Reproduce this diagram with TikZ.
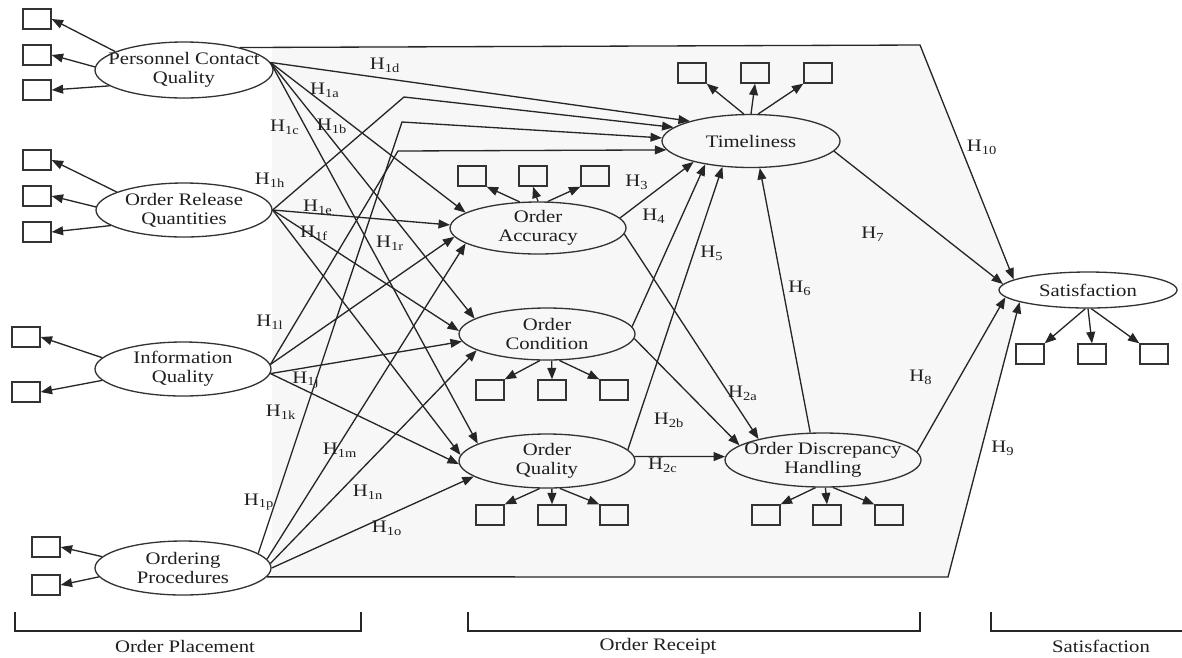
\documentclass[tikz,border=0pt]{standalone}
\usepackage{fontspec}
\setmainfont{Liberation Serif}[FakeStretch=1.18]
\usetikzlibrary{arrows.meta,shapes.geometric}
\begin{document}
\begin{tikzpicture}[x=0.02cm,y=-0.02cm,
  line width=0.75pt,
  every node/.style={text=black!88},
  esize/.style 2 args={minimum width=#1*0.02cm, minimum height=#2*0.02cm},
  latent/.style={ellipse, draw=black!80, inner xsep=-40pt, inner ysep=-8pt,
    align=center, font=\fontsize{10}{11}\selectfont},
  ind/.style={rectangle, draw=black!80, minimum width=0.56cm, minimum height=0.40cm, inner sep=0pt},
  conn/.style={draw=black!85, -{Triangle[length=6.5pt,width=5pt]}},
  plain/.style={draw=black!85},
  hyp/.style={font=\fontsize{10}{11}\selectfont, inner sep=1pt},
  stage/.style={font=\fontsize{10}{11}\selectfont, inner sep=1pt},
]
\useasboundingbox (0,0) rectangle (1182,657);

% shaded region of the structural model
\fill[black!3] (272,45) -- (920,45) -- (1012,280) -- (1000,290) -- (1020,306)
  -- (948,577) -- (272,577) -- cycle;

% latent constructs
\node[latent, esize={178}{56}] (pcq) at (184,70) {Personnel Contact\\Quality};
\node[latent, esize={176}{54}] (orq) at (184,210) {Order Release\\Quantities};
\node[latent, esize={176}{54}] (iq)  at (183,369) {Information\\Quality};
\node[latent, esize={176}{54}] (op)  at (183,568) {Ordering\\Procedures};
\node[latent, esize={178}{53}] (tim) at (751,141) {Timeliness};
\node[latent, esize={176}{52}] (oa)  at (538,228) {Order\\Accuracy};
\node[latent, esize={176}{52}] (oc)  at (547,334) {Order\\Condition};
\node[latent, esize={176}{54}] (oq)  at (547,461) {Order\\Quality};
\node[latent, esize={196}{54}] (odh) at (823,460) {Order Discrepancy\\Handling};
\node[latent, esize={178}{36}] (sat) at (1088,290) {Satisfaction};

% indicators
\node[ind] (bp1) at (37,19) {};
\node[ind] (bp2) at (37,55) {};
\node[ind] (bp3) at (37,90) {};
\node[ind] (br1) at (37,160) {};
\node[ind] (br2) at (37,196) {};
\node[ind] (br3) at (37,232) {};
\node[ind] (bi1) at (26,337) {};
\node[ind] (bi2) at (26,392) {};
\node[ind] (bo1) at (46,547) {};
\node[ind] (bo2) at (46,585) {};
\node[ind] (bt1) at (692,73) {};
\node[ind] (bt2) at (755,73) {};
\node[ind] (bt3) at (818,73) {};
\node[ind] (ba1) at (472,176) {};
\node[ind] (ba2) at (533,176) {};
\node[ind] (ba3) at (595,176) {};
\node[ind] (bc1) at (490,390) {};
\node[ind] (bc2) at (552,390) {};
\node[ind] (bc3) at (614,390) {};
\node[ind] (bq1) at (490,515) {};
\node[ind] (bq2) at (552,515) {};
\node[ind] (bq3) at (614,515) {};
\node[ind] (bd1) at (766,515) {};
\node[ind] (bd2) at (827,515) {};
\node[ind] (bd3) at (889,515) {};
\node[ind] (bs1) at (1030,354) {};
\node[ind] (bs2) at (1092,354) {};
\node[ind] (bs3) at (1154,354) {};

% construct -> indicator
\draw[conn] (pcq.165) -- (bp1.east);
\draw[conn] (pcq.178) -- (bp2.east);
\draw[conn] (pcq.192) -- (bp3.east);
\draw[conn] (orq.165) -- (br1.east);
\draw[conn] (orq.178) -- (br2.east);
\draw[conn] (orq.192) -- (br3.east);
\draw[conn] (iq.172) -- (bi1.east);
\draw[conn] (iq.188) -- (bi2.east);
\draw[conn] (op.172) -- (bo1.east);
\draw[conn] (op.186) -- (bo2.east);
\draw[conn] (tim.105) -- (bt1.south east);
\draw[conn] (tim.90) -- (bt2.south);
\draw[conn] (tim.75) -- (bt3.south west);
\draw[conn] (oa.125) -- (ba1.south east);
\draw[conn] (oa.90) -- (ba2.south);
\draw[conn] (oa.70) -- (ba3.south west);
\draw[conn] (oc.255) -- (bc1.north east);
\draw[conn] (oc.280) -- (bc2.north);
\draw[conn] (oc.295) -- (bc3.north west);
\draw[conn] (oq.255) -- (bq1.north east);
\draw[conn] (oq.280) -- (bq2.north);
\draw[conn] (oq.295) -- (bq3.north west);
\draw[conn] (odh.255) -- (bd1.north east);
\draw[conn] (odh.275) -- (bd2.north);
\draw[conn] (odh.290) -- (bd3.north west);
\draw[conn] (sat.262) -- (bs1.north east);
\draw[conn] (sat.270) -- (bs2.north);
\draw[conn] (sat.280) -- (bs3.north west);

% bend points of the routed paths
\coordinate (k1) at (404,97);
\coordinate (k2) at (402,122);
\coordinate (k3) at (398,151);
\coordinate (k10) at (920,45);
\coordinate (k9) at (948,577);

% order placement -> order receipt
\draw[conn] (pcq.5) -- (tim.162);
\draw[conn] (pcq.5) -- (oa.168);
\draw[conn] (pcq.5) -- (oc.168);
\draw[conn] (pcq.5) -- (oq.166);
\draw[conn] (orq.0) -- (k1) -- (tim.170);
\draw[conn] (orq.0) -- (oa.178);
\draw[conn] (orq.0) -- (oc.178);
\draw[conn] (orq.0) -- (oq.176);
\draw[conn] (iq.3) -- (k3) -- (tim.186);
\draw[conn] (iq.3) -- (oa.186);
\draw[conn] (iq.-3) -- (oc.185);
\draw[conn] (iq.-3) -- (oq.182);
\draw[conn] (op.11) -- (k2) -- (tim.178);
\draw[conn] (op.6) -- (oa.192);
\draw[conn] (op.3) -- (oc.193);
\draw[conn] (op.0) -- (oq.192);

% order receipt
\draw[conn] (oa.7) -- (tim.200);
\draw[conn] (oc.5) -- (tim.207);
\draw[conn] (oq.8) -- (tim.222);
\draw[conn] (odh.115) -- (tim.-72);
\draw[conn] (oa.-4) -- (odh.162);
\draw[conn] (oc.-3) -- (odh.170);
\draw[conn] (oq.3) -- (odh.178);

% -> satisfaction
\draw[conn] (tim.-7) -- (sat.176);
\draw[conn] (odh.5) -- (sat.185);
\draw[conn] (pcq.22) -- (k10) -- (sat.172);
\draw[conn] (op.-6) -- (k9) -- (sat.190);

% hypothesis labels
\node[hyp] (h1d) at (385,65) {H\textsubscript{1d}};
\node[hyp] (h1a) at (325,90) {H\textsubscript{1a}};
\node[hyp] (h1c) at (285,127) {H\textsubscript{1c}};
\node[hyp] (h1b) at (332,126) {H\textsubscript{1b}};
\node[hyp] (h1h) at (270,180) {H\textsubscript{1h}};
\node[hyp] (h1e) at (318,207) {H\textsubscript{1e}};
\node[hyp] (h1f) at (314,233) {H\textsubscript{1f}};
\node[hyp] (h1r) at (390,243) {H\textsubscript{1r}};
\node[hyp] (h1l) at (270,322) {H\textsubscript{1l}};
\node[hyp] (h1j) at (306,380) {H\textsubscript{1j}};
\node[hyp] (h1k) at (281,412) {H\textsubscript{1k}};
\node[hyp] (h1m) at (340,450) {H\textsubscript{1m}};
\node[hyp] (h1n) at (368,492) {H\textsubscript{1n}};
\node[hyp] (h1o) at (387,528) {H\textsubscript{1o}};
\node[hyp] (h1p) at (259,502) {H\textsubscript{1p}};
\node[hyp] (h3) at (637,182) {H\textsubscript{3}};
\node[hyp] (h4) at (654,216) {H\textsubscript{4}};
\node[hyp] (h5) at (712,253) {H\textsubscript{5}};
\node[hyp] (h6) at (800,288) {H\textsubscript{6}};
\node[hyp] (h7) at (873,234) {H\textsubscript{7}};
\node[hyp] (h8) at (921,377) {H\textsubscript{8}};
\node[hyp] (h9) at (1003,448) {H\textsubscript{9}};
\node[hyp] (h10) at (982,147) {H\textsubscript{10}};
\node[hyp] (h2a) at (743,393) {H\textsubscript{2a}};
\node[hyp] (h2b) at (669,420) {H\textsubscript{2b}};
\node[hyp] (h2c) at (663,465) {H\textsubscript{2c}};

% stage brackets
\draw[plain, line width=0.9pt] (15,612) |- (361,631) -- (361,612);
\draw[plain, line width=0.9pt] (468,612) |- (920,631) -- (920,612);
\draw[plain, line width=0.9pt] (991,612) |- (1182,631);
\node[stage] (stP) at (185,646) {Order Placement};
\node[stage] (stR) at (658,646) {Order Receipt};
\node[stage] (stS) at (1101,646) {Satisfaction};
\end{tikzpicture}
\end{document}
